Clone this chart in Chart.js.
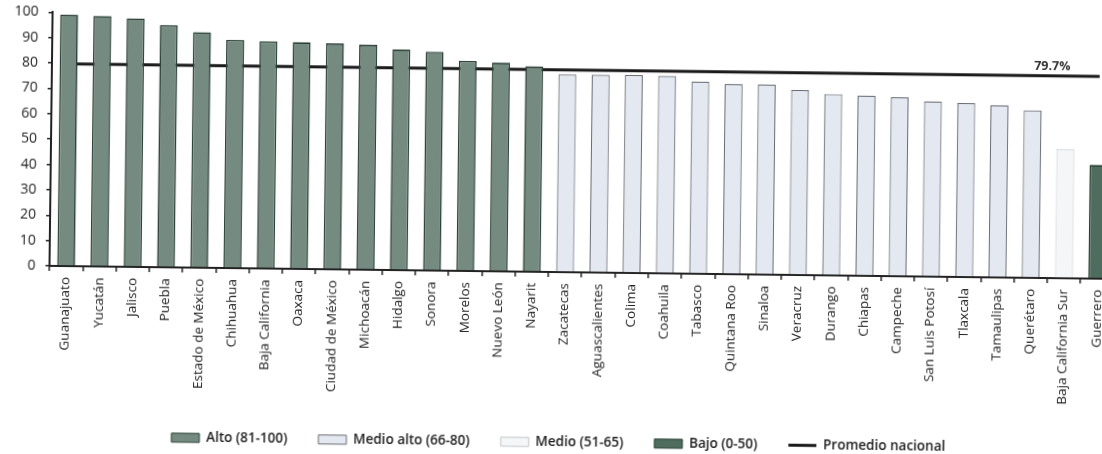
<!DOCTYPE html>
<html>
<head>
<meta charset="utf-8">
<script src="https://cdn.jsdelivr.net/npm/chart.js@4"></script>
<style>
    html, body { margin: 0; padding: 0; background: #fff; overflow: hidden; }
    #wrap { width: 1120px; height: 454px; transform: rotate(0.7deg); transform-origin: 551px 227px; }
</style>
</head>
<body>
<div id="wrap"><canvas id="chart"></canvas></div>
<script>
// Estados, ordenados de mayor a menor
const states = ['Guanajuato', 'Yucatán', 'Jalisco', 'Puebla', 'Estado de México', 'Chihuahua',
    'Baja California', 'Oaxaca', 'Ciudad de México', 'Michoacán', 'Hidalgo', 'Sonora', 'Morelos',
    'Nuevo León', 'Nayarit', 'Zacatecas', 'Aguascalientes', 'Colima', 'Coahuila', 'Tabasco',
    'Quintana Roo', 'Sinaloa', 'Veracruz', 'Durango', 'Chiapas', 'Campeche', 'San Luis Potosí',
    'Tlaxcala', 'Tamaulipas', 'Querétaro', 'Baja California Sur', 'Guerrero'];

// Valores por nivel (null = el estado no pertenece al nivel)
const alto = [99.2, 98.8, 98.0, 95.5, 92.9, 90.0, 89.6, 89.4, 89.1, 88.7, 87.0, 86.3, 82.8, 82.3, 81.0,
    null, null, null, null, null, null, null, null, null, null, null, null, null, null, null, null, null];
const medioAlto = [null, null, null, null, null, null, null, null, null, null, null, null, null, null, null,
    78.0, 78.0, 78.1, 77.9, 75.8, 75.0, 74.9, 72.9, 71.5, 71.1, 70.6, 69.1, 68.6, 67.9, 66.0, null, null];
const medio = [null, null, null, null, null, null, null, null, null, null, null, null, null, null, null,
    null, null, null, null, null, null, null, null, null, null, null, null, null, null, null, 51.0, null];
const bajo = [null, null, null, null, null, null, null, null, null, null, null, null, null, null, null,
    null, null, null, null, null, null, null, null, null, null, null, null, null, null, null, null, 44.8];

const promedio = 79.7;
const promedioLine = states.map(() => promedio);
const yTicks = [0, 10, 20, 30, 40, 50, 60, 70, 80, 90, 100];

// Etiqueta del promedio nacional sobre la linea
const promedioLabel = {
    id: 'promedioLabel',
    afterDatasetsDraw(chart) {
        const ctx = chart.ctx;
        const y = chart.scales.y.getPixelForValue(promedio);
        ctx.save();
        ctx.font = 'bold 12.5px "Open Sans"';
        ctx.fillStyle = '#333';
        ctx.textAlign = 'right';
        ctx.textBaseline = 'bottom';
        ctx.fillText(promedio.toFixed(1) + '%', chart.chartArea.right - 46, y - 3);
        ctx.restore();
    }
};

const barCommon = {
    type: 'bar',
    grouped: false,
    barPercentage: 0.54,
    categoryPercentage: 1,
    order: 1
};

new Chart(document.getElementById('chart'), {
    data: {
        labels: states,
        datasets: [
            Object.assign({}, barCommon, {
                label: 'Alto (81-100)', data: alto,
                backgroundColor: '#758a81', borderColor: '#2c4238', borderWidth: 1.6
            }),
            Object.assign({}, barCommon, {
                label: 'Medio alto (66-80)', data: medioAlto,
                backgroundColor: '#e4e8f0', borderColor: '#6a6e76', borderWidth: 1.2
            }),
            Object.assign({}, barCommon, {
                label: 'Medio (51-65)', data: medio,
                backgroundColor: '#f5f6f7', borderColor: '#c4c6c9', borderWidth: 1
            }),
            Object.assign({}, barCommon, {
                label: 'Bajo (0-50)', data: bajo,
                backgroundColor: '#4f6d5f', borderColor: '#263c31', borderWidth: 1.6
            }),
            {
                type: 'line',
                label: 'Promedio nacional',
                data: promedioLine,
                borderColor: '#1a1a1a',
                borderWidth: 3,
                pointRadius: 0,
                fill: false,
                order: 2
            }
        ]
    },
    options: {
        responsive: true,
        maintainAspectRatio: false,
        animation: false,
        layout: { padding: { top: 12, left: 2, right: 0, bottom: -5 } },
        plugins: {
            tooltip: { enabled: false },
            legend: {
                position: 'bottom',
                labels: {
                    usePointStyle: true,
                    pointStyleWidth: 28,
                    boxHeight: 9,
                    padding: 31,
                    color: '#222',
                    font: { family: '"Open Sans"', size: 13.5, weight: '600' },
                    generateLabels(chart) {
                        return chart.data.datasets.map((ds, i) => ({
                            text: ds.label,
                            datasetIndex: i,
                            fillStyle: ds.type === 'line' ? ds.borderColor : ds.backgroundColor,
                            strokeStyle: ds.borderColor,
                            lineWidth: ds.type === 'line' ? 3 : 1,
                            pointStyle: ds.type === 'line' ? 'line' : 'rect',
                            fontColor: '#222'
                        }));
                    }
                }
            }
        },
        scales: {
            x: {
                grid: { display: true, drawOnChartArea: false, drawTicks: true, tickLength: 5, color: '#222', lineWidth: 1.5 },
                border: { display: true, color: '#222', width: 2 },
                ticks: {
                    autoSkip: false,
                    minRotation: 90,
                    maxRotation: 90,
                    padding: 6,
                    color: '#222',
                    font: { family: '"Open Sans"', size: 13.5 }
                }
            },
            y: {
                min: 0,
                max: 100,
                afterBuildTicks(scale) {
                    scale.ticks = yTicks.map(v => ({ value: v }));
                },
                grid: { display: true, drawOnChartArea: false, drawTicks: true, tickLength: 4, color: '#222', lineWidth: 1.5 },
                border: { display: true, color: '#222', width: 2 },
                ticks: {
                    padding: 10,
                    color: '#222',
                    font: { family: '"Open Sans"', size: 14, weight: '500' }
                }
            }
        }
    },
    plugins: [promedioLabel]
});
</script>
</body>
</html>
